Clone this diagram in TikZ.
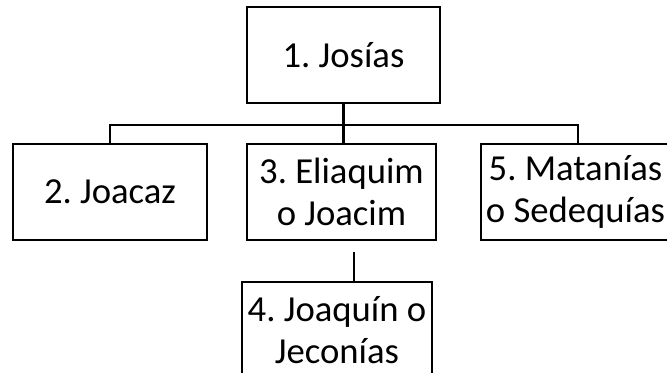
\documentclass[tikz,border=0pt]{standalone}
\usepackage{fontspec}
\setmainfont{Carlito}
\frenchspacing
\begin{document}
\begin{tikzpicture}[x=0.75pt,y=-0.75pt,
  box/.style={draw, line width=2.2pt, minimum height=72pt, inner sep=0pt, align=center,
    font=\fontsize{27.5}{32}\selectfont\frenchspacing},
  conn/.style={line width=2.2pt}]
\useasboundingbox (0,0) rectangle (667,372);
\clip (0,0) rectangle (667,372);
\node[box, minimum width=144.75pt] (j1) at (343.5,55) {1. Josías};
\node[box, minimum width=145.5pt] (j2) at (110,192) {2. Joacaz};
\node[box, minimum width=141.75pt] (j3) at (341.5,192) {3. Eliaquim\\o Joacim};
\node[box, minimum width=141.75pt] (j5) at (575.5,192) {5. Matanías\\o Sedequías};
\node[box, minimum width=142.5pt] (j4) at (337,330) {4. Joaquín o\\Jeconías};
\coordinate (busL) at (110,125);
\coordinate (busR) at (578,125);
\coordinate (c34) at (354,252);
\draw[conn] (j1.south) -- (j1.south |- j3.north);
\draw[conn] (j2.north) -- (j2.north |- busL) -- (busR) -- (busR |- j5.north);
\draw[conn] (c34) -- (c34 |- j4.north);
\end{tikzpicture}
\end{document}
